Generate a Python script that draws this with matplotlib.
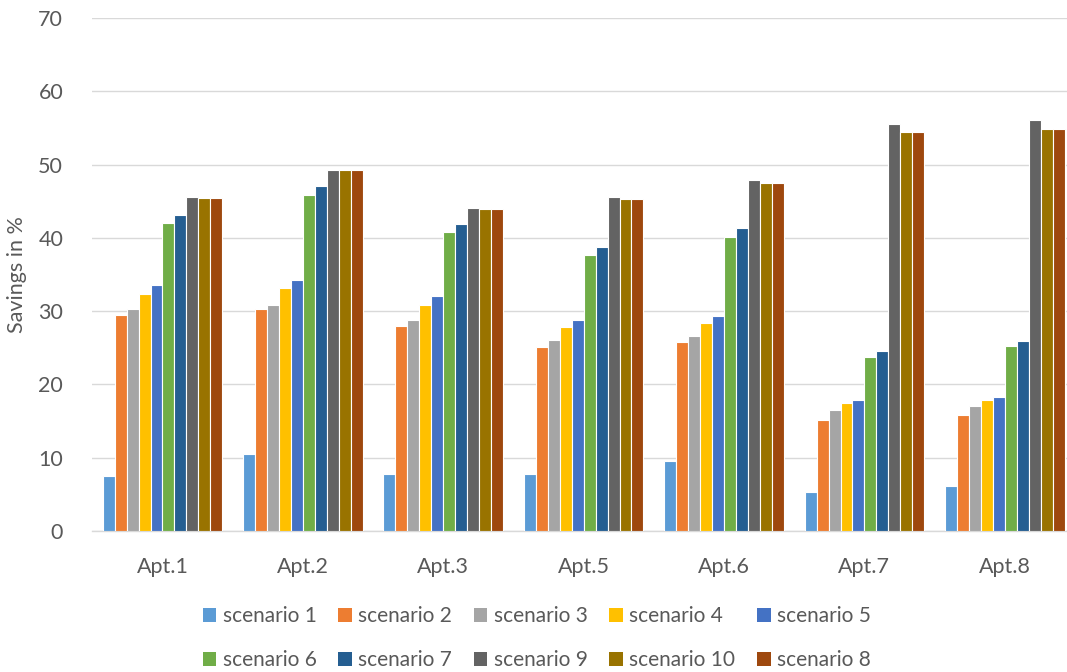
import numpy as np
import matplotlib.pyplot as plt
from matplotlib.patches import Patch

plt.rcParams['font.family'] = ['Lato', 'DejaVu Sans']

apartments = ['Apt.1', 'Apt.2', 'Apt.3', 'Apt.5', 'Apt.6', 'Apt.7', 'Apt.8']
scenarios = ['scenario 1', 'scenario 2', 'scenario 3', 'scenario 4', 'scenario 5',
             'scenario 6', 'scenario 7', 'scenario 9', 'scenario 10', 'scenario 8']
colors = ['#5B9BD5', '#ED7D31', '#A5A5A5', '#FFC000', '#4472C4',
          '#70AD47', '#255E91', '#636363', '#997300', '#9E480E']

s1 = [7.5, 10.5, 7.8, 7.8, 9.6, 5.3, 6.1]
s2 = [29.5, 30.3, 28.0, 25.1, 25.8, 15.2, 15.8]
s3 = [30.3, 30.9, 28.8, 26.1, 26.6, 16.5, 17.0]
s4 = [32.4, 33.1, 30.9, 27.8, 28.4, 17.4, 17.9]
s5 = [33.6, 34.3, 32.0, 28.8, 29.4, 17.9, 18.3]
s6 = [42.0, 45.8, 40.8, 37.6, 40.1, 23.8, 25.2]
s7 = [43.1, 47.1, 41.9, 38.7, 41.3, 24.5, 25.9]
s9 = [45.6, 49.3, 44.1, 45.6, 47.9, 55.6, 56.1]
s10 = [45.5, 49.2, 43.9, 45.3, 47.5, 54.4, 54.9]
s8 = [45.5, 49.2, 43.9, 45.3, 47.5, 54.4, 54.9]
series = [s1, s2, s3, s4, s5, s6, s7, s9, s10, s8]

fig = plt.figure(figsize=(10.67, 6.72), dpi=100)
# plot area runs a little past the right edge, as in the cropped original
ax = fig.add_axes([0.0865, 0.21, 0.921, 0.763])

x = np.arange(len(apartments))
n = len(series)
slot = 0.0852
for i, vals in enumerate(series):
    ax.bar(x + (i - (n - 1) / 2) * slot, vals, width=slot, color=colors[i],
           edgecolor='white', linewidth=0.8, zorder=3)

ax.set_xlim(-0.5, len(apartments) - 0.5)
ax.set_ylim(0, 70)
ax.set_yticks(range(0, 71, 10))
ax.set_xticks(x)
ax.set_xticklabels(apartments)
ax.grid(axis='y', color='#D9D9D9', linewidth=1, zorder=0)
for side in ['top', 'right', 'left']:
    ax.spines[side].set_visible(False)
ax.spines['bottom'].set_color('#D9D9D9')
ax.spines['bottom'].set_linewidth(1)
ax.tick_params(axis='both', length=0, labelsize=15.5, colors='#595959')
ax.tick_params(axis='x', pad=19)
ax.tick_params(axis='y', pad=21)
ax.set_ylabel('Savings in %', fontsize=15.5, color='#595959', labelpad=8)

# legend laid out row by row like the original
order = [0, 5, 1, 6, 2, 7, 3, 8, 4, 9]
handles = [Patch(facecolor=colors[i], label=scenarios[i]) for i in order]
fig.legend(handles=handles, loc='center', bbox_to_anchor=(0.503, 0.05), ncol=5,
           frameon=False, fontsize=15, labelcolor='#595959', handlelength=0.65,
           handleheight=0.65, handletextpad=0.3, columnspacing=1.05, labelspacing=1.15)

plt.savefig('out.png', dpi=100)
